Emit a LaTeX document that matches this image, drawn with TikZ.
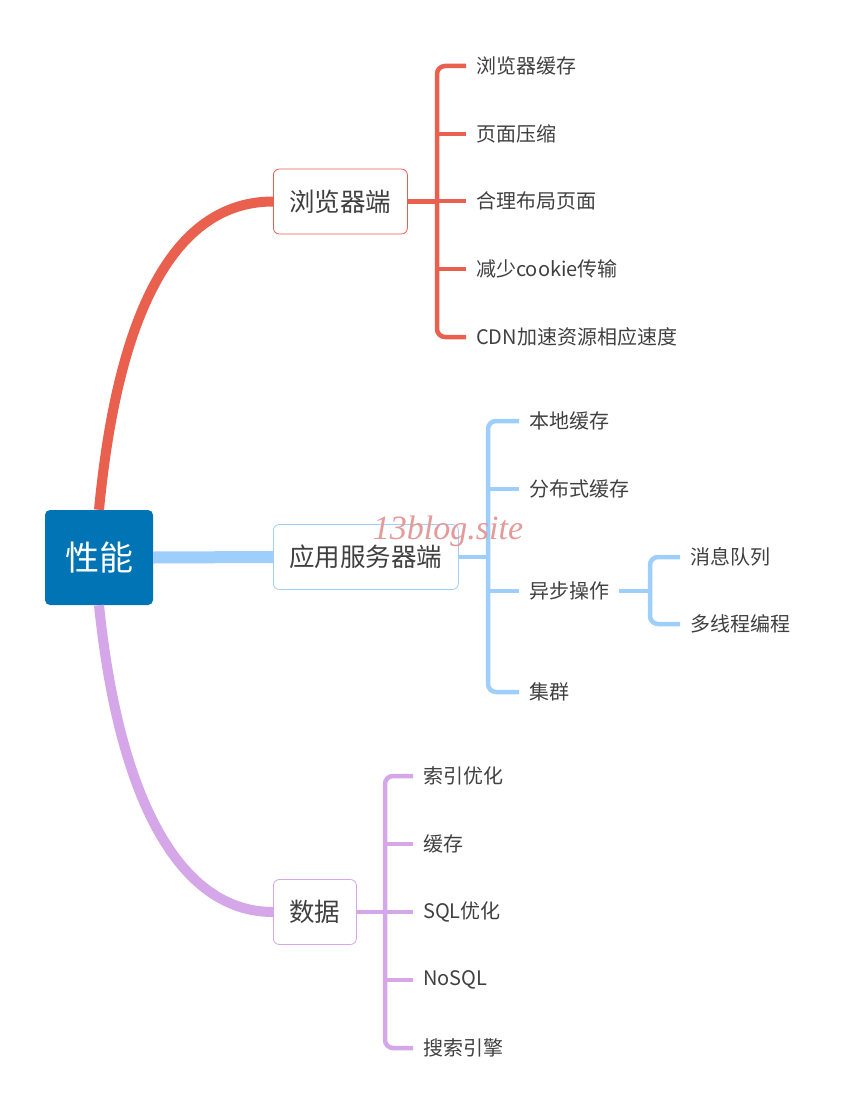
\documentclass[tikz,border=0pt]{standalone}
\usepackage{fontspec}
\setmainfont{Noto Sans CJK SC}
\newfontfamily\wmfont{Liberation Serif}
\definecolor{redc}{HTML}{E9604F}
\definecolor{bluec}{HTML}{9ECEFC}
\definecolor{purc}{HTML}{D5A7E9}
\definecolor{rootc}{HTML}{0074B4}
\definecolor{txtc}{HTML}{404040}
\definecolor{wmc}{HTML}{E59A9A}
\begin{document}
\begin{tikzpicture}[x=1pt,y=-1pt,
  rootbox/.style={fill=rootc, rounded corners=5pt, minimum width=108pt, minimum height=95pt, text=white, font=\fontsize{34}{40}\selectfont, inner sep=0pt},
  branchbox/.style={draw=#1, fill=white, rounded corners=6pt, line width=0.8pt, minimum height=65pt, inner xsep=16pt, anchor=west, text=txtc, font=\fontsize{25.5}{30}\selectfont},
  leaf/.style={anchor=west, inner xsep=10pt, inner ysep=2pt, text=txtc, font=\fontsize{20}{24}\selectfont},
  thick1/.style={line width=10pt, #1},
  brk/.style={line width=4.5pt, #1}
]
\useasboundingbox (0,0) rectangle (853,1118);

% root and branches
\node[rootbox] (root) at (99,557.5) {性能};
\node[branchbox=redc] (b1) at (273,201.5) {浏览器端};
\node[branchbox=bluec] (b2) at (273,557) {应用服务器端};
\node[branchbox=purc] (b3) at (273,912) {数据};

% main connectors
\draw[thick1=redc] (root.north) .. controls +(20,-210) and +(-93,0) .. (b1.west);
\draw[thick1=purc] (root.south) .. controls +(20,195) and +(-93,0) .. (b3.west);
\draw[line width=12pt, bluec] (root.east) -- (b2.west);

% leaves of branch 1
\node[leaf] (l11) at (466,66) {浏览器缓存};
\node[leaf] (l12) at (466,134) {页面压缩};
\node[leaf] (l13) at (466,201) {合理布局页面};
\node[leaf] (l14) at (466,269) {减少cookie传输};
\node[leaf] (l15) at (466,337) {CDN加速资源相应速度};
\coordinate (j1) at (437,201.5);
\draw[brk=redc] (b1.east) -- (j1);
\draw[brk=redc, rounded corners=8pt] (l11.west) -- (l11.west -| j1) -- (l15.west -| j1) -- (l15.west);
\draw[brk=redc] (l12.west -| j1) -- (l12.west);
\draw[brk=redc] (l13.west -| j1) -- (l13.west);
\draw[brk=redc] (l14.west -| j1) -- (l14.west);

% leaves of branch 2
\node[leaf] (l21) at (519,421) {本地缓存};
\node[leaf] (l22) at (519,489) {分布式缓存};
\node[leaf] (l23) at (519,591) {异步操作};
\node[leaf] (l24) at (519,692) {集群};
\coordinate (j2) at (488,557);
\draw[brk=bluec] (b2.east) -- (j2);
\draw[brk=bluec, rounded corners=8pt] (l21.west) -- (l21.west -| j2) -- (l24.west -| j2) -- (l24.west);
\draw[brk=bluec] (l22.west -| j2) -- (l22.west);
\draw[brk=bluec] (l23.west -| j2) -- (l23.west);

% sub leaves
\node[leaf] (l231) at (680,557) {消息队列};
\node[leaf] (l232) at (680,624) {多线程编程};
\coordinate (j3) at (650,591);
\draw[brk=bluec] (l23.east) -- (j3);
\draw[brk=bluec, rounded corners=8pt] (l231.west) -- (l231.west -| j3) -- (l232.west -| j3) -- (l232.west);

% leaves of branch 3
\node[leaf] (l31) at (413,776) {索引优化};
\node[leaf] (l32) at (413,844) {缓存};
\node[leaf] (l33) at (413,912) {SQL优化};
\node[leaf] (l34) at (413,980) {NoSQL};
\node[leaf] (l35) at (413,1048) {搜索引擎};
\coordinate (j4) at (385,912);
\draw[brk=purc] (b3.east) -- (j4);
\draw[brk=purc, rounded corners=8pt] (l31.west) -- (l31.west -| j4) -- (l35.west -| j4) -- (l35.west);
\draw[brk=purc] (l32.west -| j4) -- (l32.west);
\draw[brk=purc] (l33.west -| j4) -- (l33.west);
\draw[brk=purc] (l34.west -| j4) -- (l34.west);

% watermark
\node[text=wmc, font=\wmfont\itshape\fontsize{34}{40}\selectfont, inner sep=0pt] (wm) at (448,531) {13blog.site};
\end{tikzpicture}
\end{document}
